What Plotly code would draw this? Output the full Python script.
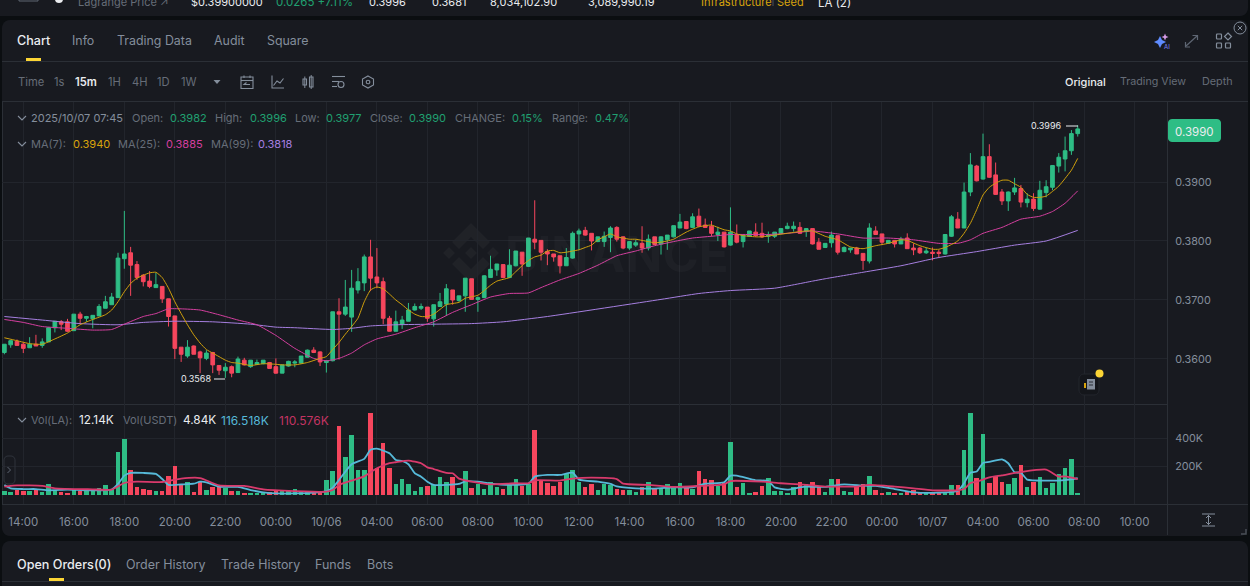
import pandas as pd
import numpy as np
import plotly.graph_objects as go

W = 1250
H = 586

# prices in 0.0001 units, one row = 10 candles
opens_raw = [
    3611,3624,3630,3625,3619,3625,3623,3629,3653,3663,
    3663,3648,3676,3669,3668,3673,3686,3692,3704,3770,
    3780,3760,3742,3732,3721,3723,3702,3673,3620,3605,
    3622,3612,3601,3611,3589,3580,3587,3577,3598,3587,
    3591,3592,3594,3587,3576,3588,3593,3593,3603,3615,
    3612,3594,3597,3680,3676,3671,3717,3729,3773,3739,
    3731,3669,3647,3659,3664,3683,3686,3688,3668,3689,
    3693,3717,3699,3707,3736,3701,3704,3738,3751,3760,
    3738,3758,3781,3757,3803,3801,3782,3778,3775,3758,
    3771,3812,3818,3813,3799,3799,3806,3823,3807,3788,
    3793,3796,3788,3807,3795,3802,3807,3822,3833,3823,
    3842,3827,3825,3811,3815,3793,3810,3799,3808,3815,
    3813,3808,3808,3813,3821,3821,3823,3816,3821,3798,
    3789,3797,3809,3782,3785,3788,3779,3766,3817,3812,
    3796,3801,3795,3805,3788,3788,3780,3781,3781,3778,
    3808,3837,3822,3883,3927,3905,3943,3912,3883,3868,
    3883,3889,3865,3871,3854,3882,3891,3927,3939,3953,3982]
highs_raw = [
    3625,3632,3633,3629,3637,3641,3635,3654,3664,3666,
    3668,3676,3680,3673,3674,3693,3707,3712,3780,3851,
    3790,3766,3744,3749,3746,3723,3702,3673,3620,3632,
    3623,3614,3615,3612,3589,3593,3589,3604,3602,3598,
    3599,3598,3595,3601,3590,3597,3598,3605,3616,3620,
    3613,3598,3680,3703,3734,3751,3754,3777,3802,3788,
    3738,3673,3682,3673,3695,3694,3694,3688,3692,3712,
    3727,3717,3707,3737,3736,3706,3742,3775,3761,3760,
    3786,3783,3781,3805,3869,3801,3786,3778,3775,3788,
    3816,3821,3824,3813,3807,3816,3825,3825,3808,3800,
    3802,3825,3811,3807,3808,3810,3826,3846,3833,3847,
    3855,3838,3834,3824,3815,3857,3828,3811,3817,3830,
    3831,3816,3815,3821,3831,3833,3832,3822,3821,3805,
    3796,3816,3809,3791,3788,3790,3779,3830,3825,3812,
    3801,3801,3807,3813,3796,3790,3789,3789,3785,3811,
    3844,3849,3899,3949,3929,3982,3964,3933,3888,3884,
    3907,3895,3881,3881,3902,3903,3928,3949,3977,3988,3996]
lows_raw = [
    3608,3619,3623,3610,3619,3622,3619,3629,3645,3649,
    3646,3648,3660,3663,3652,3673,3686,3692,3704,3753,
    3707,3734,3723,3720,3721,3695,3655,3600,3595,3602,
    3608,3576,3598,3576,3573,3568,3569,3577,3589,3585,
    3591,3591,3584,3575,3576,3587,3586,3592,3603,3610,
    3588,3577,3596,3599,3673,3646,3711,3715,3715,3720,
    3659,3647,3647,3651,3664,3682,3683,3663,3655,3689,
    3673,3692,3697,3680,3701,3680,3703,3738,3741,3737,
    3737,3757,3741,3756,3786,3767,3759,3765,3745,3758,
    3770,3785,3809,3784,3798,3790,3781,3799,3786,3785,
    3790,3780,3784,3793,3777,3785,3806,3822,3820,3822,
    3824,3822,3808,3800,3789,3792,3796,3789,3807,3807,
    3805,3797,3805,3812,3820,3816,3812,3807,3794,3786,
    3788,3789,3777,3781,3780,3778,3751,3762,3811,3793,
    3795,3789,3795,3787,3776,3778,3778,3767,3771,3777,
    3807,3822,3822,3876,3901,3904,3907,3878,3861,3851,
    3878,3857,3857,3851,3853,3874,3886,3916,3918,3946,3977]
closes_raw = [
    3625,3631,3623,3618,3625,3622,3629,3653,3664,3659,
    3647,3676,3669,3672,3674,3689,3697,3705,3771,3778,
    3759,3738,3731,3723,3726,3702,3672,3618,3608,3620,
    3608,3602,3610,3590,3581,3586,3576,3600,3590,3598,
    3594,3598,3584,3576,3590,3596,3595,3605,3615,3611,
    3595,3597,3680,3676,3688,3720,3731,3773,3737,3729,
    3669,3647,3663,3666,3683,3689,3689,3669,3692,3697,
    3719,3700,3707,3737,3701,3704,3741,3752,3761,3738,
    3759,3783,3761,3805,3798,3781,3778,3773,3758,3772,
    3813,3817,3810,3800,3807,3808,3822,3803,3788,3799,
    3797,3788,3803,3794,3807,3810,3826,3832,3821,3841,
    3825,3823,3813,3815,3790,3815,3798,3810,3817,3809,
    3807,3810,3815,3821,3825,3825,3813,3821,3795,3786,
    3796,3810,3781,3789,3788,3778,3767,3822,3811,3798,
    3801,3795,3803,3787,3785,3780,3783,3779,3779,3811,
    3841,3822,3883,3929,3902,3943,3908,3879,3868,3883,
    3890,3866,3871,3855,3886,3892,3928,3942,3953,3982,3990]

# volume in thousands
vols = [
    26,21,36,26,28,36,21,78,36,17,
    14,31,28,26,26,50,69,40,306,393,
    178,57,40,36,26,26,133,204,66,88,
    21,92,36,57,64,50,26,26,12,14,
    12,7,21,31,28,26,38,24,24,17,
    17,102,168,486,268,424,178,173,581,187,
    367,192,78,111,73,26,55,59,69,126,
    88,123,50,171,45,78,43,90,57,43,
    69,109,62,78,457,102,85,64,92,145,
    178,90,55,78,31,78,66,40,36,31,
    21,57,88,38,45,73,57,81,57,40,
    171,114,102,62,81,372,55,83,12,17,
    62,116,24,24,9,55,88,78,92,55,
    17,111,109,26,21,52,73,130,31,14,
    19,12,12,26,31,17,14,14,17,19,
    69,66,318,578,121,429,83,135,90,76,
    118,211,57,90,126,47,83,149,187,251,12.14]

# moving averages, read at these candle indexes
ma7_idx = [0,2,4,6,8,10,12,14,16,17,18,19,20,21,22,23,24,25,26,27,28,29,30,31,32,33,34,35,36,37,39,41,43,44,46,48,50,51,52,53,54,55,56,57,58,59,60,61,62,63,64,65,66,67,68,69,70,72,73,75,76,77,78,79,80,81,82,83,84,85,86,87,88,89,90,91,92,93,94,95,96,97,98,99,100,101,102,103,104,105,106,107,108,109,110,111,112,113,114,115,116,117,118,119,120,122,124,126,128,130,132,134,136,138,140,142,143,145,147,148,149,150,151,152,153,154,155,156,157,158,159,160,161,162,163,164,165,166,167,168,169,170]
ma7_raw = [3636,3631,3626,3625,3634,3644,3658,3667,3675,3683,3697,3714,3728,3737,3742,3746,3747,3738,3720,3697,3677,3658,3641,3627,3616,3610,3604,3598,3594,3593,3589,3592,3591,3590,3590,3594,3601,3604,3616,3628,3642,3655,3669,3697,3717,3722,3719,3710,3700,3692,3683,3676,3672,3672,3676,3684,3692,3696,3703,3708,3716,3725,3732,3735,3738,3748,3758,3767,3773,3776,3783,3784,3780,3781,3783,3785,3789,3793,3802,3807,3812,3807,3805,3803,3803,3801,3799,3797,3798,3800,3803,3809,3815,3820,3824,3826,3827,3823,3819,3817,3812,3809,3808,3807,3807,3810,3813,3816,3817,3808,3802,3790,3787,3792,3796,3802,3801,3792,3786,3786,3789,3794,3800,3813,3830,3853,3878,3891,3898,3903,3903,3897,3891,3879,3874,3874,3876,3884,3893,3906,3920,3940]
ma25_idx = [0,3,6,10,14,17,19,22,24,26,28,31,34,37,40,43,46,49,51,53,55,57,59,62,65,68,71,74,77,80,83,85,88,91,94,97,100,103,106,109,112,115,118,121,124,127,128,132,136,140,144,148,151,153,155,158,161,164,166,168,170]
ma25_raw = [3667,3662,3655,3652,3649,3650,3659,3672,3677,3685,3685,3683,3675,3666,3658,3640,3618,3601,3597,3601,3610,3624,3634,3642,3653,3663,3679,3692,3705,3711,3712,3721,3734,3745,3759,3775,3783,3792,3799,3805,3808,3811,3811,3811,3813,3816,3817,3812,3805,3805,3802,3796,3796,3802,3813,3823,3837,3842,3850,3864,3885]
ma99_idx = [0,6,12,18,22,27,33,39,43,46,52,55,58,62,68,74,79,86,104,110,115,122,128,130,136,142,148,154,160,165,170]
ma99_raw = [3672,3666,3660,3658,3662,3664,3663,3659,3654,3653,3650,3652,3656,3658,3659,3660,3663,3672,3701,3711,3716,3720,3732,3736,3747,3758,3772,3782,3793,3800,3818]

vol_ma1_idx = [0,1,3,5,7,10,13,17,18,19,20,22,24,25,26,28,30,31,32,34,37,39,41,43,46,49,51,52,53,55,57,58,59,61,62,63,64,65,66,67,68,70,72,73,75,77,80,83,84,86,88,90,91,94,96,97,100,103,106,109,111,114,115,116,119,121,122,124,126,127,130,133,136,138,141,144,148,151,152,153,154,155,156,158,159,160,161,162,165,168,170]
vol_ma1 = [69,45,40,40,31,36,31,36,76,135,154,154,147,111,69,73,78,92,88,57,55,33,17,9,9,14,26,50,104,216,254,318,327,294,246,239,216,152,128,92,69,69,76,95,92,78,69,78,128,140,140,156,107,92,76,59,45,43,52,52,78,88,135,135,102,97,52,36,52,57,55,73,64,62,40,17,14,26,81,156,164,225,232,251,223,159,156,107,100,104,116.5]
vol_ma2_idx = [0,2,6,8,14,17,19,21,25,28,31,34,38,41,46,51,52,53,55,57,59,61,62,64,66,67,68,70,71,72,74,77,81,83,84,88,90,93,97,98,102,106,110,114,115,120,123,126,127,130,133,135,137,141,144,147,151,152,153,154,156,158,161,165,167,168,170]
vol_ma2 = [57,66,62,45,38,36,83,92,90,114,118,66,62,38,26,21,33,69,100,130,187,223,230,242,223,194,182,154,152,114,92,73,81,81,102,100,114,121,111,78,69,55,62,73,97,92,81,73,69,57,57,57,69,57,45,31,31,40,83,92,123,137,161,178,128,130,110.6]

tick_labels = ["14:00","16:00","18:00","20:00","22:00","00:00","10/06","04:00","06:00","08:00","10:00","12:00",
               "14:00","16:00","18:00","20:00","22:00","00:00","10/07","04:00","06:00","08:00","10:00"]

times = pd.date_range("2025-10-05 13:15", periods=len(opens_raw), freq="15min")
tick_times = pd.date_range("2025-10-05 14:00", periods=len(tick_labels), freq="2h")

opens = np.array(opens_raw) / 10000
highs = np.array(highs_raw) / 10000
lows = np.array(lows_raw) / 10000
closes = np.array(closes_raw) / 10000

UP = "#2ebd85"
DOWN = "#f6465d"
BG = "#0b0e11"
PANEL = "#181a20"
SEP = "#2b2f36"
GRID = "#22252c"
MUTED = "#848e9c"
DIM = "#666d78"
WHITE = "#eaecef"
VALUE = "#20a071"
YELLOW = "#fcd535"
FONT = "Inter"

vol_colors = [UP if c >= o else DOWN for o, c in zip(opens_raw, closes_raw)]

fig = go.Figure()
fig.add_trace(go.Candlestick(
    x=times, open=opens, high=highs, low=lows, close=closes,
    increasing=dict(line=dict(color=UP, width=1), fillcolor=UP),
    decreasing=dict(line=dict(color=DOWN, width=1), fillcolor=DOWN),
    hoverinfo="skip", xaxis="x", yaxis="y"))


def add_line(idx, vals, color, axis, width=1.0):
    fig.add_trace(go.Scatter(
        x=times[idx], y=vals, mode="lines",
        line=dict(color=color, width=width, shape="spline", smoothing=0.5),
        hoverinfo="skip", xaxis=axis[0], yaxis=axis[1]))


add_line(ma99_idx, np.array(ma99_raw) / 10000, "#a67fe0", ("x", "y"))
add_line(ma25_idx, np.array(ma25_raw) / 10000, "#d43f9f", ("x", "y"))
add_line(ma7_idx, np.array(ma7_raw) / 10000, "#d0a00c", ("x", "y"))

fig.add_trace(go.Bar(x=times, y=vols, width=640000, marker=dict(color=vol_colors, line_width=0),
                     hoverinfo="skip", xaxis="x2", yaxis="y2"))
add_line(vol_ma1_idx, vol_ma1, "#56b9d8", ("x2", "y2"), 1.8)
add_line(vol_ma2_idx, vol_ma2, "#d93a6c", ("x2", "y2"), 1.8)


# helpers working in screenshot pixels
def px(x):
    return x / W


def py(y):
    return 1 - y / H


def label(x, y, text, color=MUTED, size=12, anchor="left", weight=400):
    fig.add_annotation(xref="paper", yref="paper", x=px(x), y=py(y), text=text, showarrow=False,
                       xanchor=anchor, yanchor="middle", borderpad=0,
                       font=dict(family=FONT, size=size, color=color, weight=weight))


def box(x0, y0, x1, y1, fill=None, line=None, width=1):
    fig.add_shape(type="rect", xref="paper", yref="paper", x0=px(x0), x1=px(x1), y0=py(y0), y1=py(y1),
                  fillcolor=fill, line=dict(color=line, width=width if line else 0), layer="above")


def seg(x0, y0, x1, y1, color=SEP, width=1, layer="below"):
    fig.add_shape(type="line", xref="paper", yref="paper", x0=px(x0), x1=px(x1), y0=py(y0), y1=py(y1),
                  line=dict(color=color, width=width), layer=layer)


def poly(points, fill=None, line=None, width=1, closed=True, layer="above"):
    d = "M " + " L ".join(f"{px(x):.5f},{py(y):.5f}" for x, y in points) + (" Z" if closed else "")
    fig.add_shape(type="path", xref="paper", yref="paper", path=d, fillcolor=fill,
                  line=dict(color=line, width=width if line else 0), layer=layer)


def rrect(x0, y0, x1, y1, r, fill=None, line=None, width=1, layer="above"):
    pts = []
    for cx, cy, a0 in [(x1 - r, y0 + r, -90), (x1 - r, y1 - r, 0), (x0 + r, y1 - r, 90), (x0 + r, y0 + r, 180)]:
        for a in np.radians(np.arange(a0, a0 + 91, 15)):
            pts.append((cx + r * np.cos(a), cy + r * np.sin(a)))
    poly(pts, fill, line, width, True, layer)


def circle(cx, cy, r, fill=None, line=None, width=1):
    fig.add_shape(type="circle", xref="paper", yref="paper", x0=px(cx - r), x1=px(cx + r),
                  y0=py(cy + r), y1=py(cy - r), fillcolor=fill,
                  line=dict(color=line, width=width if line else 0))


def chevron(x, y):
    poly([(x - 4, y - 2), (x, y + 2), (x + 4, y - 2)], None, MUTED, 1.1, False)


# page panels
rrect(-8, -20, 1248, 16, 8, PANEL, layer="below")
rrect(2, 20, 1248, 536, 8, PANEL, layer="below")
rrect(2, 541, 1248, 600, 8, PANEL, layer="below")

# watermark
wm = "rgba(255,255,255,0.035)"
for cx, cy, r in [(471, 253, 6), (449, 253, 6), (493, 253, 6)]:
    poly([(cx, cy - r), (cx + r, cy), (cx, cy + r), (cx - r, cy)], wm, layer="below")
poly([(471, 223), (490, 242), (483, 249), (471, 237), (459, 249), (452, 242)], wm, layer="below")
poly([(471, 283), (490, 264), (483, 257), (471, 269), (459, 257), (452, 264)], wm, layer="below")
label(504, 254, "BINANCE", "rgba(255,255,255,0.028)", 49, weight=700)

# separators
seg(2, 61.5, 1248, 61.5)
seg(2, 101.5, 1248, 101.5)
seg(2, 404.5, 1167, 404.5)
seg(2, 504.5, 1248, 504.5)
seg(2.5, 102, 2.5, 504)
seg(1167.5, 102, 1167.5, 535)
seg(2, 581.5, 1248, 581.5)

# top strip, cut off by the page edge
label(77, 2, "Lagrange Price ↗", DIM, 11)
label(190, 2, "$0.39900000", WHITE, 11)
label(275, 2, "0.0265 +7.11%", VALUE, 11.5)
label(368, 2, "0.3996", WHITE, 11)
label(431, 2, "0.3681", WHITE, 11)
label(489, 2, "8,034,102.90", WHITE, 11)
label(587, 2, "3,089,990.19", WHITE, 11)
label(700, 2, "Infrastructure", "#d9a40c", 11)
label(776, 2, "Seed", "#d9a40c", 11)
seg(773, 0, 773, 6, "#4a4f57", layer="above")
label(817, 3, "LA (2)", WHITE, 11.5)
box(19, -4, 38, 1, None, "#5e6673")
circle(59, -1, 4, "#eaecef")

# tabs
label(16, 40, "Chart", WHITE, 12.6, weight=500)
label(71, 40, "Info", MUTED, 12.4)
label(116, 40, "Trading Data", MUTED, 12.4)
label(213, 40, "Audit", MUTED, 12.4)
label(266, 40, "Square", MUTED, 12.4)
box(26, 58, 41, 61, YELLOW)

# toolbar
label(17, 82, "Time", DIM, 11.2)
label(53, 82, "1s", DIM, 11.2)
label(74, 82, "15m", WHITE, 11.2, weight=600)
label(107, 82, "1H", DIM, 11.2)
label(131, 82, "4H", DIM, 11.2)
label(156, 82, "1D", DIM, 11.2)
label(180, 82, "1W", DIM, 11.2)
poly([(213.5, 80), (220.5, 80), (217, 84)], MUTED)
label(1064, 82, "Original", WHITE, 11, weight=500)
label(1119, 82, "Trading View", DIM, 10.7)
label(1201, 82, "Depth", DIM, 10.8)

# toolbar icons
box(241, 77, 253, 88.5, None, MUTED, 1.1)
seg(241, 80.5, 253, 80.5, MUTED, 1.1, "above")
seg(244, 75.5, 244, 78, MUTED, 1.1, "above")
seg(250, 75.5, 250, 78, MUTED, 1.1, "above")
poly([(250, 84.5), (244, 84.5), (246.5, 82.5)], None, MUTED, 1.1, False)
poly([(272, 75.5), (272, 88), (284, 88)], None, MUTED, 1.1, False)
poly([(273.5, 85.5), (277, 81), (280, 83), (283.5, 78.5)], None, MUTED, 1.1, False)
box(303, 79, 306.5, 85, None, MUTED, 1.1)
box(309.5, 77, 313, 87, None, MUTED, 1.1)
seg(304.8, 76.5, 304.8, 88, MUTED, 1, "above")
seg(311.2, 75, 311.2, 89, MUTED, 1, "above")
seg(332, 76.5, 345, 76.5, MUTED, 1.1, "above")
seg(332, 81.5, 339, 81.5, MUTED, 1.1, "above")
seg(332, 86.5, 337, 86.5, MUTED, 1.1, "above")
circle(341, 84.5, 3, None, MUTED, 1.1)
poly([(368, 76), (373.5, 79), (373.5, 85), (368, 88), (362.5, 85), (362.5, 79)], None, MUTED, 1.1)
circle(368, 82, 1.8, None, MUTED, 1.1)

# right icons
poly([(1160, 36), (1162, 40), (1166, 42), (1162, 44), (1160, 48), (1158, 44), (1154, 42), (1158, 40)], "#5f8cff")
poly([(1165, 33.5), (1166, 36), (1168.5, 37), (1166, 38), (1165, 40.5), (1164, 38), (1161.5, 37), (1164, 36)], "#d79be8")
label(1163, 46, "AI", "#7a86ff", 6)
seg(1186, 46, 1197, 36, "#5e6673", 1.2, "above")
poly([(1192.5, 35.5), (1197.5, 35.5), (1197.5, 40)], None, "#5e6673", 1.2, False)
poly([(1185.5, 42), (1185.5, 47), (1190, 47)], None, "#5e6673", 1.2, False)
rrect(1216.5, 34, 1221.5, 39, 1, None, MUTED, 1.2)
rrect(1216.5, 43, 1221.5, 48, 1, None, MUTED, 1.2)
rrect(1225.5, 43, 1230.5, 48, 1, None, MUTED, 1.2)
poly([(1228, 33), (1231.5, 36.5), (1228, 40), (1224.5, 36.5)], None, MUTED, 1.2)
circle(1240, 28, 6, None, MUTED, 1)
seg(1237.8, 25.8, 1242.2, 30.2, MUTED, 1, "above")
seg(1242.2, 25.8, 1237.8, 30.2, MUTED, 1, "above")

# legend rows
chevron(22, 118)
label(30, 118, "2025/10/07 07:45", MUTED, 11)
label(131, 118, "Open:", DIM, 11)
label(169, 118, "0.3982", VALUE, 11)
label(214, 118, "High:", DIM, 11)
label(249, 118, "0.3996", VALUE, 11)
label(294, 118, "Low:", DIM, 11)
label(325, 118, "0.3977", VALUE, 11)
label(369, 118, "Close:", DIM, 11)
label(408, 118, "0.3990", VALUE, 11)
label(454, 118, "CHANGE:", DIM, 11)
label(511, 118, "0.15%", VALUE, 11)
label(551, 118, "Range:", DIM, 11)
label(594, 118, "0.47%", VALUE, 11)
chevron(22, 144)
label(30, 144, "MA(7):", DIM, 11)
label(72, 144, "0.3940", "#d9a40c", 11)
label(117, 144, "MA(25):", DIM, 11)
label(165, 144, "0.3885", "#d43f9f", 11)
label(210, 144, "MA(99):", DIM, 11)
label(257, 144, "0.3818", "#a67fe0", 11)
chevron(22, 420)
label(30, 420, "Vol(LA):", DIM, 11)
label(78, 420, "12.14K", WHITE, 11.8)
label(122, 420, "Vol(USDT)", DIM, 11)
label(182, 420, "4.84K", WHITE, 11.8)
label(220, 420, "116.518K", "#56b9d8", 12)
label(278, 420, "110.576K", "#c43463", 12)

# high, low and last price marks
label(1063, 125.5, "0.3996", WHITE, 9, "right")
seg(1066, 126, 1078, 126, WHITE, 1, "above")
label(212, 378.5, "0.3568", WHITE, 9, "right")
seg(214, 379, 225, 379, WHITE, 1, "above")
rrect(1168, 119, 1221, 142, 4, UP)
label(1194.5, 132, "0.3990", WHITE, 11.5, "center")

# chart widgets
rrect(4, 456, 15, 484, 4, None, "#2f333b")
poly([(7.5, 467), (10.5, 470), (7.5, 473)], None, "#5e6673", 1, False)
rrect(1079, 374, 1099, 395, 5, "#14161b", "#23262d")
box(1087, 379, 1095, 389.5, MUTED)
seg(1089, 382, 1093, 382, "#2b2f36", 1, "above")
seg(1089, 385, 1093, 385, "#2b2f36", 1, "above")
box(1084, 383, 1086, 388, "#d9a40c")
circle(1099.5, 373.5, 4, YELLOW)
seg(1202, 514, 1215, 514, MUTED, 1, "above")
seg(1202, 526, 1215, 526, MUTED, 1, "above")
seg(1208.5, 515, 1208.5, 525, MUTED, 1, "above")
poly([(1206, 518), (1208.5, 515.5), (1211, 518)], None, MUTED, 1, False)
poly([(1206, 522), (1208.5, 524.5), (1211, 522)], None, MUTED, 1, False)
poly([(1241, 534), (1246, 534), (1246, 529)], None, "#4a4f57", 1.5, False)

# bottom tabs
label(16, 564, "Open Orders(0)", WHITE, 12.6, weight=500)
label(125, 564, "Order History", MUTED, 12.5)
label(220, 564, "Trade History", MUTED, 12.4)
label(314, 564, "Funds", MUTED, 12.5)
label(366, 564, "Bots", MUTED, 12.5)
box(49, 578, 64, 581, YELLOW)

x_range = ["2025-10-05 13:09:23", "2025-10-07 11:17:06"]
x_domain = [2 / W, 1167 / W]
grid_font = dict(family=FONT, size=10.8, color=MUTED)

fig.update_layout(
    width=W, height=H, margin=dict(l=0, r=0, t=0, b=0),
    paper_bgcolor=BG, plot_bgcolor="rgba(0,0,0,0)",
    showlegend=False, boxgap=0.35, boxgroupgap=0.1, bargap=0,
    xaxis=dict(type="date", domain=x_domain, range=x_range, anchor="y", rangeslider=dict(visible=False),
               tickvals=tick_times, ticktext=[""] * len(tick_times), showgrid=True, gridcolor=GRID, gridwidth=1,
               ticks="", showline=False, zeroline=False),
    yaxis=dict(domain=[1 - 405 / H, 1 - 102 / H], range=[0.35220, 0.40356], anchor="x", side="right",
               tickvals=[0.36, 0.37, 0.38, 0.39], ticktext=["0.3600", "0.3700", "0.3800", "0.3900"],
               showgrid=True, gridcolor=GRID, gridwidth=1, ticks="outside", ticklen=5, tickcolor="rgba(0,0,0,0)",
               tickfont=grid_font, showline=False, zeroline=False),
    xaxis2=dict(type="date", domain=x_domain, range=x_range, anchor="y2",
                tickvals=tick_times, ticktext=tick_labels, showgrid=True, gridcolor=GRID, gridwidth=1,
                ticks="outside", ticklen=7, tickcolor="rgba(0,0,0,0)", tickangle=0,
                tickfont=dict(family=FONT, size=11.5, color=MUTED), showline=False, zeroline=False),
    yaxis2=dict(domain=[1 - 504 / H, 1 - 405 / H], range=[-66, 636], anchor="x2", side="right",
                tickvals=[200, 400], ticktext=["200K", "400K"], showgrid=True, gridcolor=GRID, gridwidth=1,
                ticks="outside", ticklen=5, tickcolor="rgba(0,0,0,0)",
                tickfont=grid_font, showline=False, zeroline=False),
)

fig.write_html("out.html", config=dict(displayModeBar=False),
               post_script="document.body.style.margin='0';document.body.style.background='%s';" % BG)
